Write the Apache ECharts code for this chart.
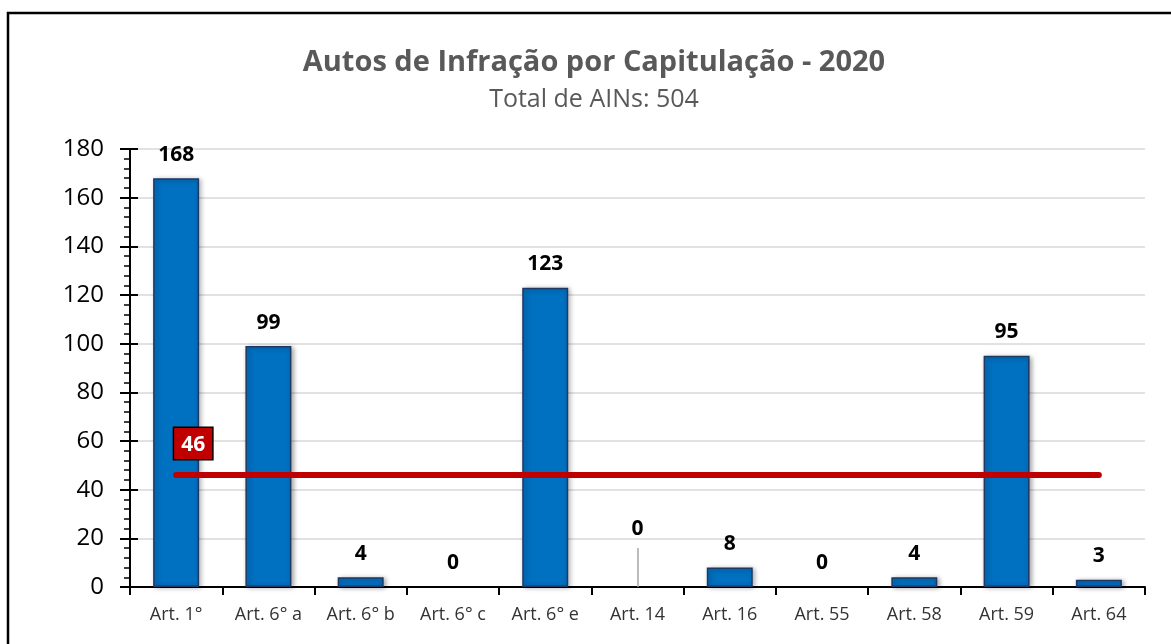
<!DOCTYPE html>
<html>
<head>
<meta charset="utf-8">
<script src="https://cdn.jsdelivr.net/npm/echarts@6/dist/echarts.min.js"></script>
<style>
  html, body { margin: 0; padding: 0; background: #fff; }
  #chart { width: 1171px; height: 644px; }
</style>
</head>
<body>
<div id="chart"></div>
<script>
const categories = ['Art. 1°', 'Art. 6° a', 'Art. 6° b', 'Art. 6° c', 'Art. 6° e', 'Art. 14', 'Art. 16', 'Art. 55', 'Art. 58', 'Art. 59', 'Art. 64']
const values = [168, 99, 4, 0, 123, 0, 8, 0, 4, 95, 3]
const average = 46
const titleText = 'Autos de Infração por Capitulação - 2020'
const subtitleText = 'Total de AINs: 504'

// zero bars: no visible bar, only the label; Art. 14 label is lifted with a leader line
const barData = values.map(function (v, i) {
  const item = { value: v }
  if (v === 0) {
    item.itemStyle = { color: 'rgba(0,0,0,0)', borderWidth: 0, shadowBlur: 0, shadowOffsetX: 0, shadowOffsetY: 0, shadowColor: 'rgba(0,0,0,0)' }
  }
  if (categories[i] === 'Art. 14') {
    item.label = { offset: [0, -34] }
  }
  return item
})

const chart = echarts.init(document.getElementById('chart'))
chart.setOption({
  animation: false,
  title: {
    text: titleText,
    subtext: subtitleText,
    left: 589,
    textAlign: 'center',
    top: 43,
    itemGap: 10,
    textStyle: { fontFamily: 'Open Sans', fontWeight: 'bold', fontSize: 29, color: '#595959' },
    subtextStyle: { fontFamily: 'Open Sans', fontSize: 25, color: '#595959' }
  },
  graphic: [
    {
      type: 'rect',
      shape: { x: 8, y: 13, width: 1200, height: 700 },
      style: { fill: 'none', stroke: '#000', lineWidth: 2.5 },
      silent: true
    }
  ],
  grid: { left: 130, right: 26, top: 149, bottom: 57 },
  xAxis: {
    type: 'category',
    data: categories,
    axisLine: { lineStyle: { color: '#000', width: 2 } },
    axisTick: { show: true, interval: 0, length: 8, lineStyle: { color: '#000', width: 2 } },
    axisLabel: { interval: 0, hideOverlap: false, fontFamily: 'Open Sans', fontSize: 18, color: '#333', margin: 19 }
  },
  yAxis: [
    {
      type: 'value',
      min: 0,
      max: 180,
      interval: 20,
      axisLine: { show: true, lineStyle: { color: '#000', width: 2 } },
      axisTick: { show: true, length: 10, lineStyle: { color: '#000', width: 2 } },
      minorTick: { show: true, splitNumber: 5, length: 6, lineStyle: { color: '#000', width: 1.5 } },
      axisLabel: { fontFamily: 'Open Sans', fontSize: 24, color: '#000', margin: 26 },
      splitLine: { lineStyle: { color: '#d9d9d9', width: 1.5 } }
    },
    {
      type: 'value',
      position: 'left',
      min: 0,
      max: 180,
      interval: 20,
      axisLine: { show: false },
      axisTick: { show: true, inside: true, length: 8, lineStyle: { color: '#000', width: 2 } },
      axisLabel: { show: false },
      splitLine: { show: false }
    }
  ],
  series: [
    {
      type: 'bar',
      data: barData,
      barWidth: 46,
      itemStyle: {
        color: '#0070C0',
        borderColor: '#1F3864',
        borderWidth: 1.5,
        shadowColor: 'rgba(0,0,0,0.35)',
        shadowBlur: 5,
        shadowOffsetX: 2,
        shadowOffsetY: 1
      },
      label: {
        show: true,
        position: 'top',
        distance: 13,
        fontFamily: 'Open Sans',
        fontWeight: 'bold',
        fontSize: 21,
        color: '#000'
      },
      markLine: {
        symbol: 'none',
        silent: true,
        data: [
          [
            { coord: [0, average], value: average },
            { coord: [10, average] }
          ],
          [
            { coord: [5, 0], lineStyle: { color: '#a6a6a6', width: 1.5, cap: 'butt' }, label: { show: false } },
            { coord: [5, 16] }
          ]
        ],
        lineStyle: { color: '#C00000', width: 6, type: 'solid', cap: 'round' },
        label: {
          show: true,
          position: 'insideStartTop',
          distance: [-2, 16],
          formatter: '{c}',
          fontFamily: 'Open Sans',
          fontWeight: 'bold',
          fontSize: 21,
          color: '#fff',
          backgroundColor: '#C00000',
          borderColor: '#000',
          borderWidth: 1.5,
          padding: [6, 7, 4, 7]
        }
      }
    }
  ]
})
</script>
</body>
</html>
